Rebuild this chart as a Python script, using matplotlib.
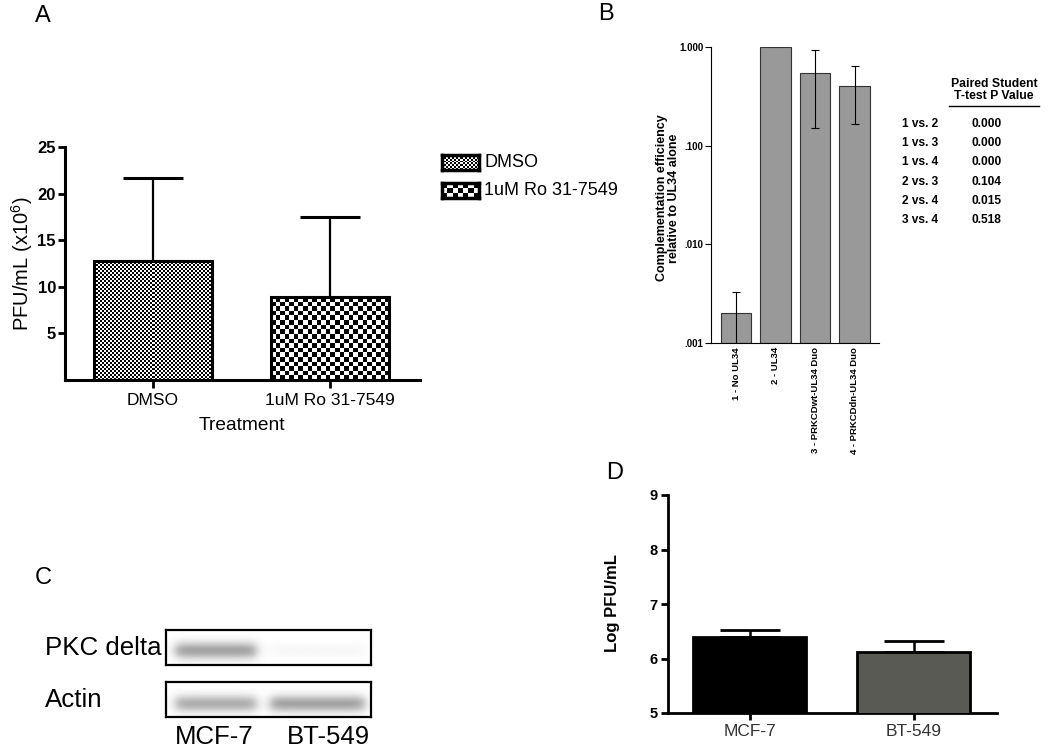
import numpy as np
import matplotlib
matplotlib.use("Agg")
import matplotlib.pyplot as plt
from matplotlib.lines import Line2D
from matplotlib.ticker import NullLocator

plt.rcParams["font.family"] = ["Liberation Sans", "DejaVu Sans"]
plt.rcParams["mathtext.default"] = "regular"

# panel A - titer after inhibitor treatment
a_groups = ["DMSO", "1uM Ro 31-7549"]
a_means = [12.8, 8.9]
a_err = [8.9, 8.6]
a_cell = [2.0, 4.5]  # checker size (px) of each fill

# panel B - complementation efficiency
b_labels = ["1 - No UL34", "2 - UL34", "3 - PRKCDwt-UL34 Duo", "4 - PRKCDdn-UL34 Duo"]
b_means = [0.002, 1.0, 0.54, 0.40]
b_err = [0.0013, 0.0, 0.39, 0.235]
b_pairs = ["1 vs. 2", "1 vs. 3", "1 vs. 4", "2 vs. 3", "2 vs. 4", "3 vs. 4"]
b_pvals = ["0.000", "0.000", "0.000", "0.104", "0.015", "0.518"]

# panel C - western blot
c_lanes = ["MCF-7", "BT-549"]
c_proteins = ["PKC delta", "Actin"]
c_band = [[0.36, 0.03], [0.32, 0.36]]

# panel D - titer per cell line
d_lines = ["MCF-7", "BT-549"]
d_means = [6.39, 6.12]
d_err = [0.13, 0.20]
d_colors = ["black", "#5a5a54"]

W, H = 1050, 754


def box(l, t, r, b):
    return [l / W, 1 - b / H, (r - l) / W, (b - t) / H]


def fxy(x, y):
    return x / W, 1 - y / H


def checker(ny, nx):
    return np.indices((ny, nx)).sum(axis=0) % 2


def checker_fill(ax, bar, cell):
    x0, y0 = bar.get_x(), bar.get_y()
    w, h = bar.get_width(), bar.get_height()
    p0 = ax.transData.transform((x0, y0))
    p1 = ax.transData.transform((x0 + w, y0 + h))
    nx = max(1, int(round((p1[0] - p0[0]) / cell)))
    ny = max(1, int(round((p1[1] - p0[1]) / cell)))
    im = ax.imshow(checker(ny, nx), extent=[x0, x0 + w, y0, y0 + h], cmap="gray",
                   vmin=0, vmax=1, interpolation="nearest", aspect="auto",
                   origin="lower", zorder=1)
    im.set_clip_path(bar)


fig = plt.figure(figsize=(W / 100, H / 100), dpi=100)

# ---------------- A
axA = fig.add_axes(box(65, 147, 420, 380))
xA = np.arange(len(a_groups))
axA.set_xlim(-0.497, 1.508)
axA.set_ylim(0, 25)
barsA = axA.bar(xA, a_means, width=0.667, facecolor="none", edgecolor="black",
                linewidth=2.2, zorder=3)
for b, c in zip(barsA, a_cell):
    checker_fill(axA, b, c)
axA.errorbar(xA, a_means, yerr=[np.zeros(len(a_err)), a_err], fmt="none",
             ecolor="black", elinewidth=1.6, capsize=21.6, capthick=2.2, zorder=2)
axA.set_xlim(-0.497, 1.508)
axA.set_ylim(0, 25)
for s in ["top", "right"]:
    axA.spines[s].set_visible(False)
for s in ["left", "bottom"]:
    axA.spines[s].set_linewidth(2.2)
axA.set_yticks([5, 10, 15, 20, 25])
axA.set_yticklabels(["5", "10", "15", "20", "25"], fontweight="bold", fontsize=12)
axA.set_xticks(xA)
axA.set_xticklabels(a_groups, fontsize=12.5)
axA.tick_params(axis="y", length=5, width=2, pad=1.5)
axA.tick_params(axis="x", length=6, width=2, pad=3.5)
fig.text(*fxy(22, 264), "PFU/mL (x10$^{6}$)", rotation=90, ha="center", va="center", fontsize=14.5)
fig.text(*fxy(242, 426), "Treatment", ha="center", va="center", fontsize=13.8)

# legend of A
for (t, b), cell, lab in zip([(155, 170), (183, 198)], [2.0, 5.0], a_groups):
    sw = fig.add_axes(box(442, t, 479, b))
    nx, ny = int(round(37 / cell)), int(round(15 / cell))
    sw.imshow(checker(ny, nx), cmap="gray", vmin=0, vmax=1, interpolation="nearest",
              aspect="auto")
    sw.set_xticks([])
    sw.set_yticks([])
    for s in sw.spines.values():
        s.set_linewidth(2.5)
    fig.text(*fxy(484, (t + b) / 2), lab, ha="left", va="center", fontsize=13)

# ---------------- B
axB = fig.add_axes(box(711, 47, 879, 343))
xB = np.arange(len(b_labels))
floor = 0.001
axB.set_yscale("log")
axB.bar(xB, np.array(b_means) - floor, bottom=floor, width=0.76, color="#999999",
        edgecolor="#333333", linewidth=0.8, zorder=2)
idx = [i for i, e in enumerate(b_err) if e > 0]
axB.errorbar(xB[idx], np.array(b_means)[idx], yerr=np.array(b_err)[idx], fmt="none",
             ecolor="black", elinewidth=0.8, capsize=3, capthick=0.8, zorder=3)
axB.set_ylim(0.001, 1.0)
axB.set_xlim(-0.633, 3.62)
for s in ["top", "right"]:
    axB.spines[s].set_visible(False)
for s in ["left", "bottom"]:
    axB.spines[s].set_linewidth(0.8)
axB.set_yticks([0.001, 0.01, 0.1, 1.0])
axB.set_yticklabels([".001", ".010", ".100", "1.000"], fontweight="bold", fontsize=7)
axB.yaxis.set_minor_locator(NullLocator())
axB.tick_params(axis="y", length=4, width=0.8, pad=1.5)
axB.set_xticks(xB)
axB.set_xticklabels(b_labels, rotation=90, fontweight="bold", fontsize=6.8, va="top")
axB.tick_params(axis="x", length=0, pad=3)
fig.text(*fxy(668, 198), "Complementation efficiency\nrelative to UL34 alone", rotation=90,
         ha="center", va="center", fontweight="bold", fontsize=9, linespacing=1.0)

fig.text(*fxy(994, 90), "Paired Student\nT-test P Value", ha="center", va="center",
         fontweight="bold", fontsize=8.8, linespacing=1.0)
fig.add_artist(Line2D([949 / W, 1039 / W], [1 - 106 / H] * 2, color="black", lw=1.0))
for i, (p, v) in enumerate(zip(b_pairs, b_pvals)):
    y = 123.7 + 19.3 * i
    fig.text(*fxy(902, y), p, ha="left", va="center", fontweight="bold", fontsize=8.6)
    fig.text(*fxy(972, y), v, ha="left", va="center", fontweight="bold", fontsize=8.6)

# ---------------- C
spans = [(0.045, 0.44), (0.51, 0.97)]
yy = np.linspace(0, 1, 40)[:, None]
xx = np.linspace(0, 1, 240)[None, :]
for row, (prot, vals, t, yc) in enumerate(zip(c_proteins, c_band, [630, 682], [0.6, 0.62])):
    axC = fig.add_axes(box(166, t, 371, t + 35))
    img = np.zeros((40, 240))
    for (a, b), v in zip(spans, vals):
        horiz = 1 / (1 + np.exp(-(xx - a) / 0.015)) / (1 + np.exp((xx - b) / 0.015))
        vert = np.exp(-((yy - yc) / 0.24) ** 2)
        img += v * horiz * vert
    axC.imshow(img, cmap="gray_r", vmin=0, vmax=1, aspect="auto", interpolation="bilinear")
    axC.set_xticks([])
    axC.set_yticks([])
    for s in axC.spines.values():
        s.set_linewidth(1.6)
    fig.text(*fxy(45, t + 18), prot, ha="left", va="center", fontsize=18.6)
for lane, x in zip(c_lanes, [214, 328]):
    fig.text(*fxy(x, 737), lane, ha="center", va="center", fontsize=18.5)

# ---------------- D
axD = fig.add_axes(box(668, 495, 997, 713))
xD = np.arange(len(d_lines))
axD.bar(xD, d_means, width=0.69, color=d_colors, edgecolor="black", linewidth=2.0, zorder=3)
axD.errorbar(xD, d_means, yerr=[np.zeros(len(d_err)), d_err], fmt="none", ecolor="black",
             elinewidth=1.8, capsize=21.6, capthick=2.0, zorder=2)
axD.set_xlim(-0.497, 1.509)
axD.set_ylim(5, 9)
for s in ["top", "right"]:
    axD.spines[s].set_visible(False)
for s in ["left", "bottom"]:
    axD.spines[s].set_linewidth(2.0)
axD.set_yticks([5, 6, 7, 8, 9])
axD.set_yticklabels(["5", "6", "7", "8", "9"], fontweight="bold", fontsize=10.5)
axD.set_xticks(xD)
axD.set_xticklabels(d_lines, fontsize=12.5, color="#333333")
axD.tick_params(axis="y", length=5, width=2, pad=2.5)
axD.tick_params(axis="x", length=5, width=2, pad=3)
fig.text(*fxy(613, 603), "Log PFU/mL", rotation=90, ha="center", va="center",
         fontweight="bold", fontsize=12)

# panel letters
for lab, (x, y) in zip("ABCD", [(43, 16), (606, 14), (43, 578), (615, 473)]):
    fig.text(*fxy(x, y), lab, ha="center", va="center", fontsize=17)

fig.savefig("out.png", dpi=100)
